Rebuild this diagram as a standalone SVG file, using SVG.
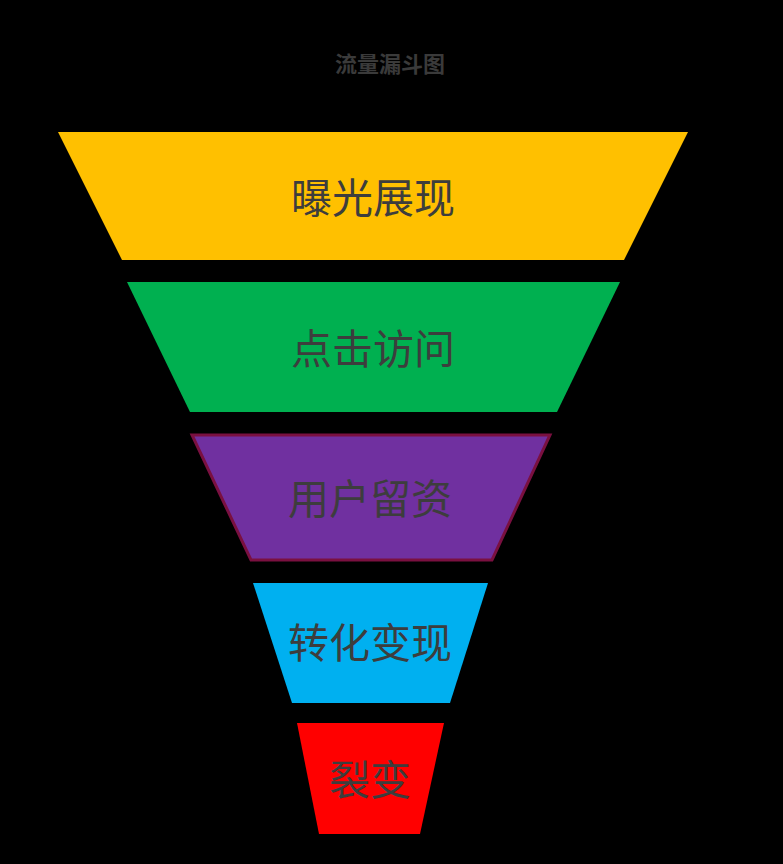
<svg xmlns="http://www.w3.org/2000/svg" width="783" height="864" viewBox="0 0 783 864">
<style>
.lbl{font-family:"Noto Sans CJK SC","Noto Sans",sans-serif;font-size:41px;fill:#3d3d3d;text-anchor:middle}
.title{font-family:"Noto Sans CJK SC","Noto Sans",sans-serif;font-size:22px;font-weight:bold;fill:#3a3a3a;text-anchor:middle}
</style>
<rect width="783" height="864" fill="#000"/>
<text class="title" x="390" y="72">流量漏斗图</text>
<g id="n1"><polygon points="58,132 688,132 624,260 122,260" fill="#ffc000"/><text class="lbl" x="373" y="213">曝光展现</text></g>
<g id="n2"><polygon points="127,282 620,282 557,412 190,412" fill="#00b050"/><text class="lbl" x="373" y="364">点击访问</text></g>
<g id="n3"><polygon points="192,435 550,435 492,560 251,560" fill="#7030a0" stroke="#7a1040" stroke-width="3"/><text class="lbl" x="370" y="514">用户留资</text></g>
<g id="n4"><polygon points="253,583 488,583 450,703 292,703" fill="#00b0f0"/><text class="lbl" x="370" y="658">转化变现</text></g>
<g id="n5"><polygon points="297,723 444,723 420,834 319,834" fill="#ff0000"/><text class="lbl" x="370" y="795">裂变</text></g>
<g id="connectors"></g>
</svg>
